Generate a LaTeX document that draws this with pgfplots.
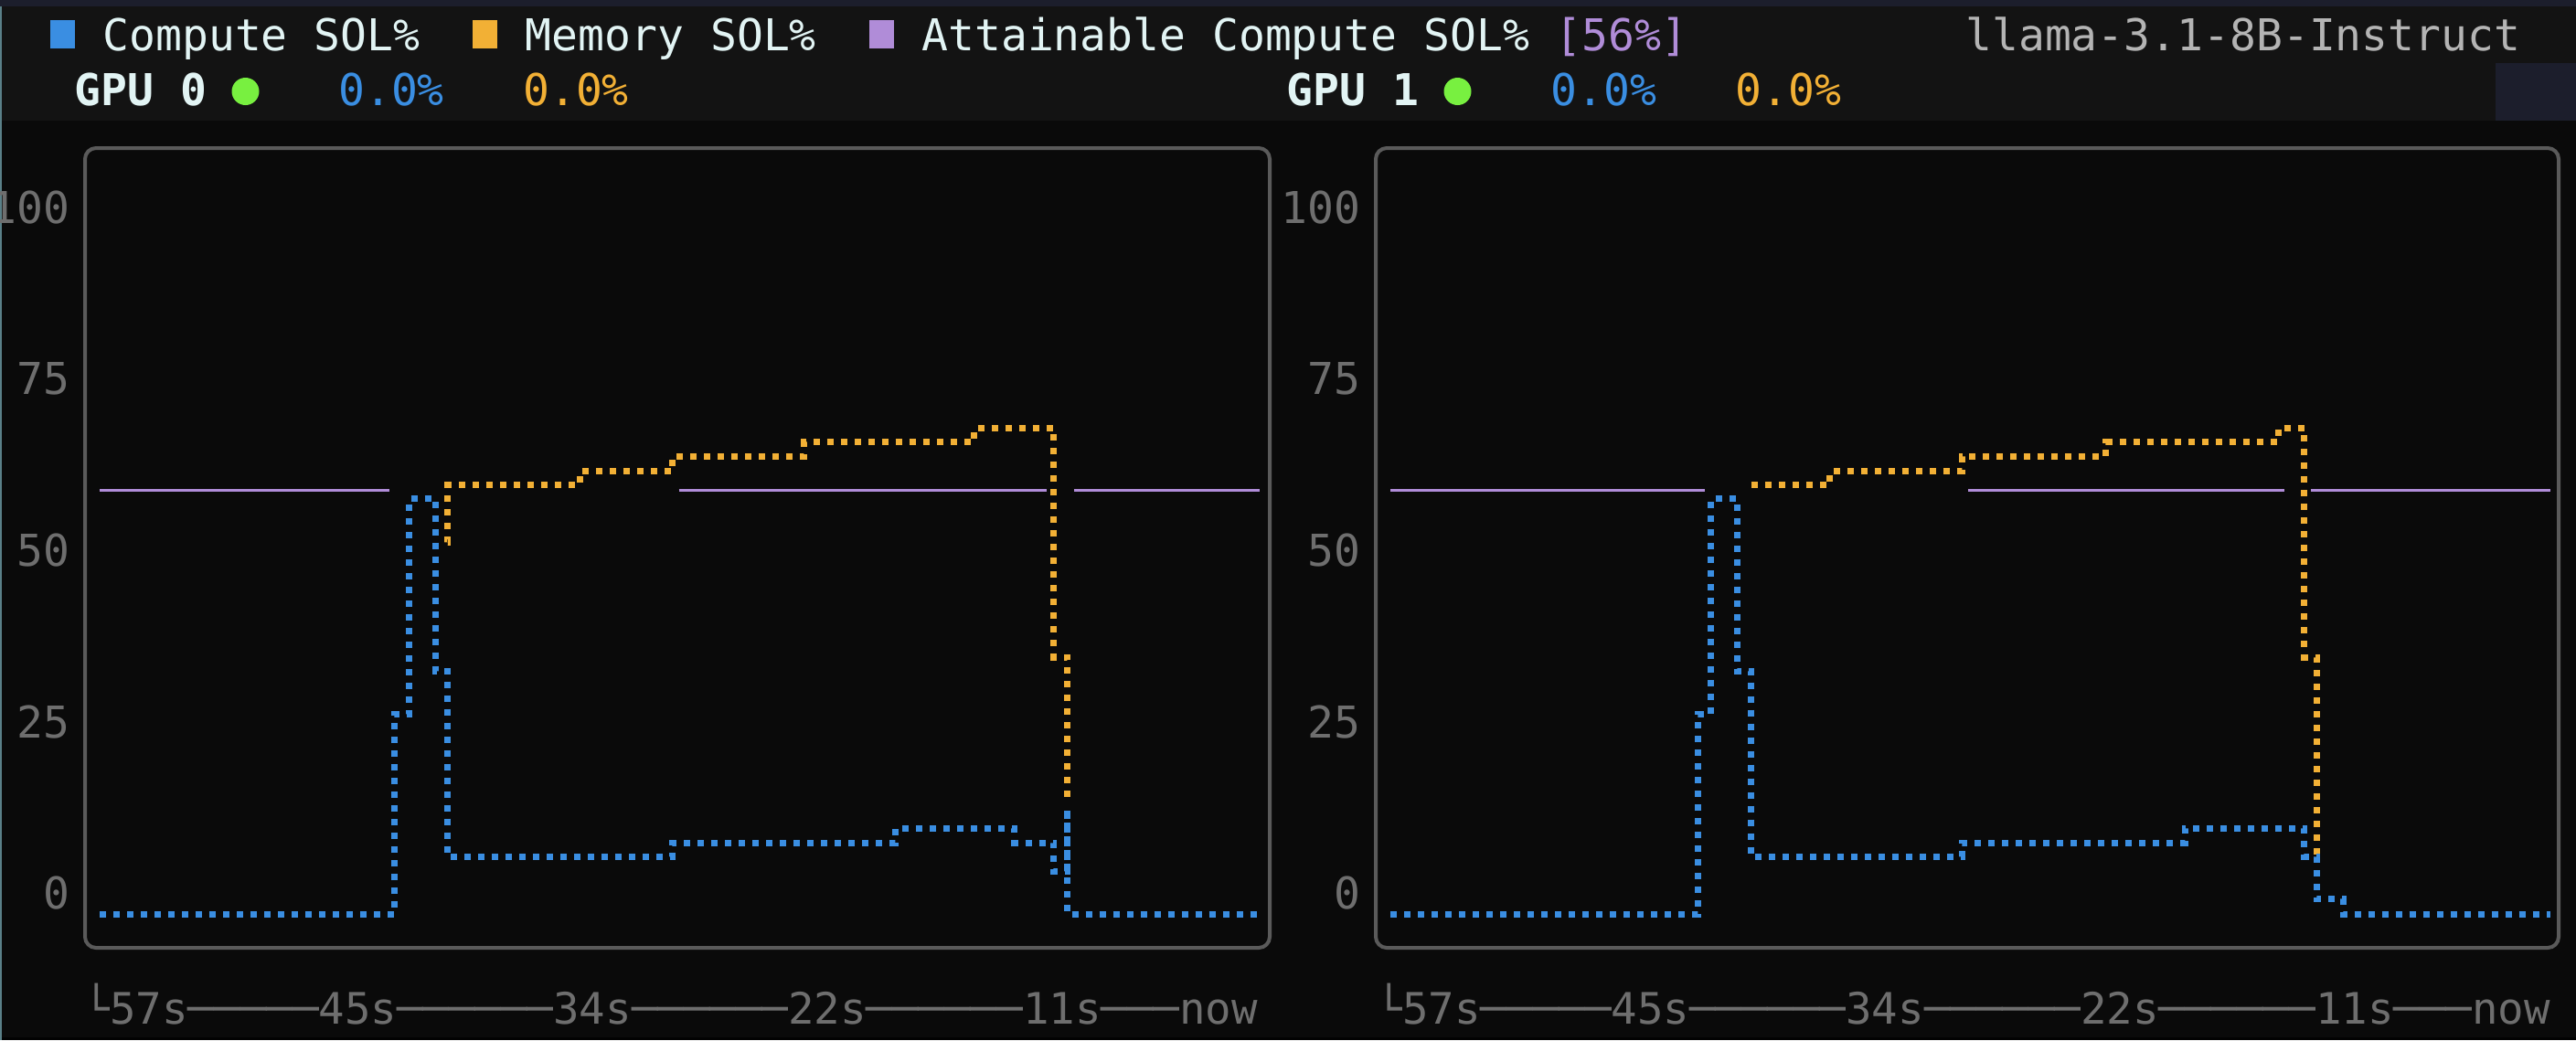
\documentclass[border=0pt]{standalone}
\usepackage{pgfplots}
\pgfplotsset{compat=1.18}
\usepackage{fontspec}
\setmainfont{DejaVu Sans Mono}
\definecolor{bgmain}{HTML}{0A0A0A}
\definecolor{bghead}{HTML}{131313}
\definecolor{bgstrip}{HTML}{1C1E2C}
\definecolor{edgeline}{HTML}{5A8088}
\definecolor{framegray}{HTML}{5A5A5A}
\definecolor{tickgray}{HTML}{6E6E6E}
\definecolor{txtwhite}{HTML}{E2F4F4}
\definecolor{modelgray}{HTML}{B4B4B4}
\definecolor{cblue}{HTML}{3A8EE2}
\definecolor{corange}{HTML}{F2B035}
\definecolor{cpurple}{HTML}{B08CD8}
\definecolor{cgreen}{HTML}{78F040}
\newcommand{\hf}{\fontsize{12pt}{14pt}\selectfont}
\newcommand{\sq}[1]{\makebox[7.224pt][l]{\textcolor{#1}{\rule[0.5pt]{6.75pt}{7.75pt}}}}
\pgfplotsset{
  solpanel/.style={
    scale only axis, width=324pt, height=218.75pt,
    xmin=-57.72, xmax=0.49, ymin=-8, ymax=108.67,
    axis line style={draw=none},
    xtick=\empty, ytick={0,25,50,75,100},
    major tick length=0pt, tick style={draw=none},
    yticklabel style={font=\hf, text=tickgray, anchor=east, inner sep=0pt, xshift=-4pt},
    /pgf/number format/assume math mode=true,
    unbounded coords=jump, no marks, clip=false,
  },
  compser/.style={cblue, const plot, line width=1.75pt, dash pattern=on 1.75pt off 2pt},
  memser/.style={corange, const plot, line width=1.75pt, dash pattern=on 1.75pt off 2pt},
  attser/.style={cpurple, line width=0.8pt},
}
\begin{document}
\begin{tikzpicture}
\useasboundingbox (0pt,0pt) rectangle (704.5pt,-284.5pt);
\begin{scope}[x=0.25pt,y=-0.25pt]
  \fill[bgmain] (0,0) rectangle (2818,1138);
  \fill[bghead] (0,0) rectangle (2818,132);
  \fill[bgstrip] (0,0) rectangle (2818,7);
  \fill[bgstrip] (2730,69) rectangle (2818,132);
  \fill[black!80!bgmain] (0,1135) rectangle (2818,1138);
  \fill[edgeline] (0,7) rectangle (2,1138);
\end{scope}

% GPU 0
\begin{axis}[solpanel, at={(23.25pt,-259.25pt)}, anchor=south west]
\addplot[attser] coordinates {(-57,58.7) (-42.78,58.7) (-42.7,nan) (-28.54,58.7) (-10.45,58.7) (-10.4,nan) (-9.13,58.7) (0,58.7)};
\addplot[memser] coordinates {(-39.9,51.1) (-39.89,59.5) (-33.42,61.5) (-28.85,63.7) (-22.38,65.8) (-14.02,67.8) (-10.12,34.4) (-9.45,13.7)};
\addplot[compser] coordinates {(-57.0,-3.1) (-42.5,26.1) (-41.8,57.5) (-40.5,32.4) (-39.9,5.3) (-28.85,7.3) (-17.9,9.4) (-12.05,7.3) (-10.12,3.1) (-9.45,11.5) (-9.44,-3.1) (0,-3.1)};
\end{axis}

% GPU 1
\begin{axis}[solpanel, at={(376.25pt,-259.25pt)}, anchor=south west]
\addplot[attser] coordinates {(-57,58.7) (-41.55,58.7) (-41.5,nan) (-28.60,58.7) (-13.09,58.7) (-13.0,nan) (-11.78,58.7) (0,58.7)};
\addplot[memser] coordinates {(-39.27,59.5) (-35.40,61.5) (-28.93,63.7) (-21.84,65.8) (-13.39,67.8) (-12.10,34.4) (-11.50,5.3)};
\addplot[compser] coordinates {(-57,-3.1) (-41.87,26.1) (-41.25,57.5) (-39.95,32.4) (-39.27,5.3) (-28.93,7.3) (-17.97,9.4) (-12.10,5.3) (-11.50,-0.9) (-10.2,-3.1) (0,-3.1)};
\end{axis}

\begin{scope}[x=0.25pt,y=-0.25pt]
  \draw[framegray, line width=1pt, rounded corners=3pt] (93,162) rectangle (1389,1037);
  \draw[framegray, line width=1pt, rounded corners=3pt] (1505,162) rectangle (2799,1037);
  % header legend
  \node[anchor=base west, inner sep=0pt, text=txtwhite, font=\hf] at (54,55)
    {\sq{cblue} Compute SOL\%\ \ \sq{corange} Memory SOL\%\ \ \sq{cpurple} Attainable Compute SOL\% \textcolor{cpurple}{[56\%]}};
  \node[anchor=base east, inner sep=0pt, text=modelgray, font=\hf] at (2758,55) {llama-3.1-8B-Instruct};
  % GPU rows
  \node[anchor=base west, inner sep=0pt, text=txtwhite, font=\hf\bfseries] at (81,115) {GPU 0};
  \fill[cgreen] (268.5,100) circle[radius=3.75pt];
  \node[anchor=base west, inner sep=0pt, text=cblue, font=\hf] at (369.5,115) {0.0\%};
  \node[anchor=base west, inner sep=0pt, text=corange, font=\hf] at (571.5,115) {0.0\%};
  \node[anchor=base west, inner sep=0pt, text=txtwhite, font=\hf\bfseries] at (1407,115) {GPU 1};
  \fill[cgreen] (1594.5,100) circle[radius=3.75pt];
  \node[anchor=base west, inner sep=0pt, text=cblue, font=\hf] at (1695.5,115) {0.0\%};
  \node[anchor=base west, inner sep=0pt, text=corange, font=\hf] at (1897.5,115) {0.0\%};
  % time axis labels
  \node[anchor=base west, inner sep=0pt, text=tickgray, font=\fontsize{11.85pt}{14pt}\selectfont] at (91,1120)
    {└57s─────45s──────34s──────22s──────11s───now};
  \node[anchor=base west, inner sep=0pt, text=tickgray, font=\fontsize{11.85pt}{14pt}\selectfont] at (1505,1120)
    {└57s─────45s──────34s──────22s──────11s───now};
\end{scope}
\end{tikzpicture}
\end{document}
